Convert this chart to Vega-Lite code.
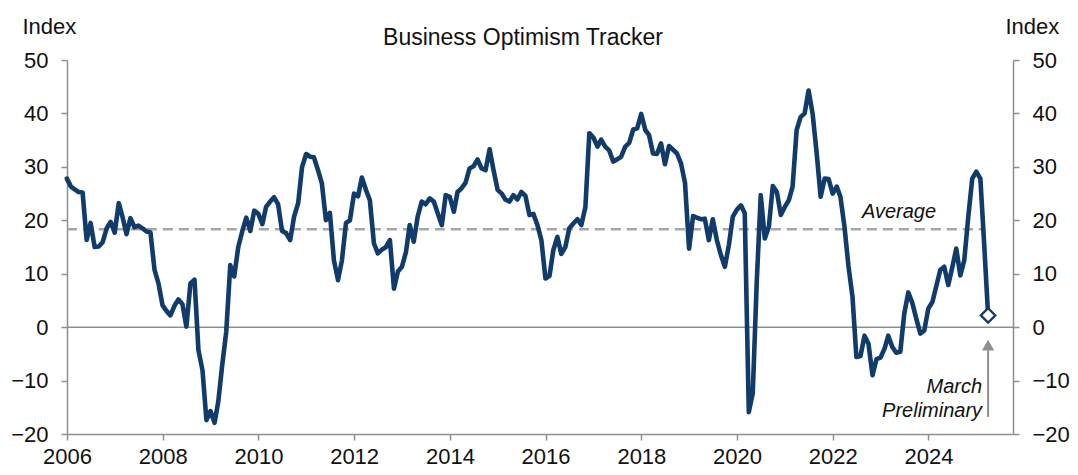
{
  "$schema": "https://vega.github.io/schema/vega-lite/v6.json",
  "width": 946,
  "height": 374,
  "autosize": "none",
  "padding": {"left": 67, "top": 60, "right": 65, "bottom": 41},
  "background": "white",
  "title": {"text": "Business Optimism Tracker", "anchor": "middle", "frame": "group", "dx": -17, "dy": 53, "offset": 0, "baseline": "alphabetic", "fontSize": 23, "fontWeight": "normal", "font": "Liberation Sans", "color": "#111111"},
  "config": {
    "view": {"stroke": null},
    "font": "Liberation Sans",
    "axis": {"domainColor": "#8f8f8f", "domainWidth": 1.5, "tickColor": "#8f8f8f", "tickWidth": 1.5, "tickSize": 6, "labelFont": "Liberation Sans", "labelFontSize": 22, "labelColor": "#111111", "titleFont": "Liberation Sans", "titleFontSize": 22, "titleFontWeight": "normal", "titleColor": "#111111", "grid": false}
  },
  "datasets": {
    "tracker": [
      {"date": "2005-12-31", "value": 27.8},
      {"date": "2006-01-31", "value": 26.3}, {"date": "2006-02-28", "value": 25.8}, {"date": "2006-03-31", "value": 25.3}, {"date": "2006-04-30", "value": 25.2}, {"date": "2006-05-31", "value": 16.3}, {"date": "2006-06-30", "value": 19.5}, {"date": "2006-07-31", "value": 15.0}, {"date": "2006-08-31", "value": 15.1}, {"date": "2006-09-30", "value": 15.9}, {"date": "2006-10-31", "value": 18.5}, {"date": "2006-11-30", "value": 19.7}, {"date": "2006-12-31", "value": 17.7},
      {"date": "2007-01-31", "value": 23.2}, {"date": "2007-02-28", "value": 20.7}, {"date": "2007-03-31", "value": 17.4}, {"date": "2007-04-30", "value": 20.4}, {"date": "2007-05-31", "value": 18.7}, {"date": "2007-06-30", "value": 19.0}, {"date": "2007-07-31", "value": 18.5}, {"date": "2007-08-31", "value": 17.9}, {"date": "2007-09-30", "value": 17.7}, {"date": "2007-10-31", "value": 10.7}, {"date": "2007-11-30", "value": 8.2}, {"date": "2007-12-31", "value": 4.1},
      {"date": "2008-01-31", "value": 3.0}, {"date": "2008-02-29", "value": 2.2}, {"date": "2008-03-31", "value": 4.0}, {"date": "2008-04-30", "value": 5.2}, {"date": "2008-05-31", "value": 4.3}, {"date": "2008-06-30", "value": 0.1}, {"date": "2008-07-31", "value": 8.2}, {"date": "2008-08-31", "value": 8.9}, {"date": "2008-09-30", "value": -4.3}, {"date": "2008-10-31", "value": -8.1}, {"date": "2008-11-30", "value": -17.4}, {"date": "2008-12-31", "value": -15.7},
      {"date": "2009-01-31", "value": -17.9}, {"date": "2009-02-28", "value": -14.0}, {"date": "2009-03-31", "value": -7.0}, {"date": "2009-04-30", "value": -0.9}, {"date": "2009-05-31", "value": 11.6}, {"date": "2009-06-30", "value": 9.5}, {"date": "2009-07-31", "value": 15.0}, {"date": "2009-08-31", "value": 18.0}, {"date": "2009-09-30", "value": 20.5}, {"date": "2009-10-31", "value": 18.0}, {"date": "2009-11-30", "value": 21.8}, {"date": "2009-12-31", "value": 21.2},
      {"date": "2010-01-31", "value": 19.3}, {"date": "2010-02-28", "value": 22.5}, {"date": "2010-03-31", "value": 23.5}, {"date": "2010-04-30", "value": 24.3}, {"date": "2010-05-31", "value": 23.0}, {"date": "2010-06-30", "value": 18.0}, {"date": "2010-07-31", "value": 17.6}, {"date": "2010-08-31", "value": 16.3}, {"date": "2010-09-30", "value": 20.7}, {"date": "2010-10-31", "value": 23.2}, {"date": "2010-11-30", "value": 30.0}, {"date": "2010-12-31", "value": 32.4},
      {"date": "2011-01-31", "value": 31.9}, {"date": "2011-02-28", "value": 31.8}, {"date": "2011-03-31", "value": 29.4}, {"date": "2011-04-30", "value": 26.9}, {"date": "2011-05-31", "value": 20.0}, {"date": "2011-06-30", "value": 21.4}, {"date": "2011-07-31", "value": 12.5}, {"date": "2011-08-31", "value": 8.8}, {"date": "2011-09-30", "value": 12.5}, {"date": "2011-10-31", "value": 19.5}, {"date": "2011-11-30", "value": 20.0}, {"date": "2011-12-31", "value": 25.0},
      {"date": "2012-01-31", "value": 24.5}, {"date": "2012-02-29", "value": 28.0}, {"date": "2012-03-31", "value": 25.7}, {"date": "2012-04-30", "value": 23.8}, {"date": "2012-05-31", "value": 15.7}, {"date": "2012-06-30", "value": 13.8}, {"date": "2012-07-31", "value": 14.5}, {"date": "2012-08-31", "value": 15.0}, {"date": "2012-09-30", "value": 16.3}, {"date": "2012-10-31", "value": 7.2}, {"date": "2012-11-30", "value": 10.4}, {"date": "2012-12-31", "value": 11.3},
      {"date": "2013-01-31", "value": 14.1}, {"date": "2013-02-28", "value": 19.1}, {"date": "2013-03-31", "value": 16.0}, {"date": "2013-04-30", "value": 20.7}, {"date": "2013-05-31", "value": 23.5}, {"date": "2013-06-30", "value": 23.0}, {"date": "2013-07-31", "value": 24.1}, {"date": "2013-08-31", "value": 23.5}, {"date": "2013-09-30", "value": 21.3}, {"date": "2013-10-31", "value": 19.1}, {"date": "2013-11-30", "value": 24.7}, {"date": "2013-12-31", "value": 24.4},
      {"date": "2014-01-31", "value": 21.6}, {"date": "2014-02-28", "value": 25.3}, {"date": "2014-03-31", "value": 26.0}, {"date": "2014-04-30", "value": 27.0}, {"date": "2014-05-31", "value": 29.7}, {"date": "2014-06-30", "value": 30.1}, {"date": "2014-07-31", "value": 31.4}, {"date": "2014-08-31", "value": 29.7}, {"date": "2014-09-30", "value": 29.4}, {"date": "2014-10-31", "value": 33.3}, {"date": "2014-11-30", "value": 29.4}, {"date": "2014-12-31", "value": 25.7},
      {"date": "2015-01-31", "value": 25.0}, {"date": "2015-02-28", "value": 23.9}, {"date": "2015-03-31", "value": 23.5}, {"date": "2015-04-30", "value": 24.7}, {"date": "2015-05-31", "value": 23.9}, {"date": "2015-06-30", "value": 25.3}, {"date": "2015-07-31", "value": 24.6}, {"date": "2015-08-31", "value": 21.0}, {"date": "2015-09-30", "value": 21.2}, {"date": "2015-10-31", "value": 19.1}, {"date": "2015-11-30", "value": 16.3}, {"date": "2015-12-31", "value": 9.1},
      {"date": "2016-01-31", "value": 9.6}, {"date": "2016-02-29", "value": 14.4}, {"date": "2016-03-31", "value": 16.9}, {"date": "2016-04-30", "value": 13.7}, {"date": "2016-05-31", "value": 15.0}, {"date": "2016-06-30", "value": 18.5}, {"date": "2016-07-31", "value": 19.4}, {"date": "2016-08-31", "value": 20.2}, {"date": "2016-09-30", "value": 19.1}, {"date": "2016-10-31", "value": 22.5}, {"date": "2016-11-30", "value": 36.3}, {"date": "2016-12-31", "value": 35.5},
      {"date": "2017-01-31", "value": 33.8}, {"date": "2017-02-28", "value": 35.1}, {"date": "2017-03-31", "value": 33.8}, {"date": "2017-04-30", "value": 33.1}, {"date": "2017-05-31", "value": 31.0}, {"date": "2017-06-30", "value": 31.4}, {"date": "2017-07-31", "value": 31.9}, {"date": "2017-08-31", "value": 33.8}, {"date": "2017-09-30", "value": 34.5}, {"date": "2017-10-31", "value": 37.0}, {"date": "2017-11-30", "value": 37.2}, {"date": "2017-12-31", "value": 39.9},
      {"date": "2018-01-31", "value": 36.9}, {"date": "2018-02-28", "value": 36.0}, {"date": "2018-03-31", "value": 32.5}, {"date": "2018-04-30", "value": 32.4}, {"date": "2018-05-31", "value": 34.4}, {"date": "2018-06-30", "value": 30.5}, {"date": "2018-07-31", "value": 33.9}, {"date": "2018-08-31", "value": 33.2}, {"date": "2018-09-30", "value": 32.5}, {"date": "2018-10-31", "value": 30.6}, {"date": "2018-11-30", "value": 27.0}, {"date": "2018-12-31", "value": 14.7},
      {"date": "2019-01-31", "value": 20.8}, {"date": "2019-02-28", "value": 20.5}, {"date": "2019-03-31", "value": 20.2}, {"date": "2019-04-30", "value": 20.3}, {"date": "2019-05-31", "value": 16.3}, {"date": "2019-06-30", "value": 20.2}, {"date": "2019-07-31", "value": 16.3}, {"date": "2019-08-31", "value": 13.5}, {"date": "2019-09-30", "value": 11.3}, {"date": "2019-10-31", "value": 15.4}, {"date": "2019-11-30", "value": 20.7}, {"date": "2019-12-31", "value": 22.0},
      {"date": "2020-01-31", "value": 22.8}, {"date": "2020-02-29", "value": 21.3}, {"date": "2020-03-31", "value": -15.9}, {"date": "2020-04-30", "value": -12.4}, {"date": "2020-05-31", "value": 8.8}, {"date": "2020-06-30", "value": 24.7}, {"date": "2020-07-31", "value": 16.6}, {"date": "2020-08-31", "value": 18.8}, {"date": "2020-09-30", "value": 26.4}, {"date": "2020-10-31", "value": 25.3}, {"date": "2020-11-30", "value": 21.0}, {"date": "2020-12-31", "value": 22.5},
      {"date": "2021-01-31", "value": 23.8}, {"date": "2021-02-28", "value": 26.3}, {"date": "2021-03-31", "value": 36.9}, {"date": "2021-04-30", "value": 39.3}, {"date": "2021-05-31", "value": 40.0}, {"date": "2021-06-30", "value": 44.3}, {"date": "2021-07-31", "value": 39.9}, {"date": "2021-08-31", "value": 32.5}, {"date": "2021-09-30", "value": 24.4}, {"date": "2021-10-31", "value": 27.8}, {"date": "2021-11-30", "value": 27.7}, {"date": "2021-12-31", "value": 25.0},
      {"date": "2022-01-31", "value": 26.3}, {"date": "2022-02-28", "value": 24.4}, {"date": "2022-03-31", "value": 18.8}, {"date": "2022-04-30", "value": 11.5}, {"date": "2022-05-31", "value": 5.7}, {"date": "2022-06-30", "value": -5.6}, {"date": "2022-07-31", "value": -5.4}, {"date": "2022-08-31", "value": -1.6}, {"date": "2022-09-30", "value": -3.1}, {"date": "2022-10-31", "value": -9.0}, {"date": "2022-11-30", "value": -6.0}, {"date": "2022-12-31", "value": -5.7},
      {"date": "2023-01-31", "value": -4.0}, {"date": "2023-02-28", "value": -1.6}, {"date": "2023-03-31", "value": -3.7}, {"date": "2023-04-30", "value": -4.8}, {"date": "2023-05-31", "value": -4.6}, {"date": "2023-06-30", "value": 2.5}, {"date": "2023-07-31", "value": 6.5}, {"date": "2023-08-31", "value": 4.5}, {"date": "2023-09-30", "value": 1.6}, {"date": "2023-10-31", "value": -1.2}, {"date": "2023-11-30", "value": -0.6}, {"date": "2023-12-31", "value": 3.5},
      {"date": "2024-01-31", "value": 4.7}, {"date": "2024-02-29", "value": 7.6}, {"date": "2024-03-31", "value": 10.7}, {"date": "2024-04-30", "value": 11.3}, {"date": "2024-05-31", "value": 7.9}, {"date": "2024-06-30", "value": 11.1}, {"date": "2024-07-31", "value": 14.7}, {"date": "2024-08-31", "value": 9.7}, {"date": "2024-09-30", "value": 12.5}, {"date": "2024-10-31", "value": 20.7}, {"date": "2024-11-30", "value": 27.8}, {"date": "2024-12-31", "value": 29.1},
      {"date": "2025-01-31", "value": 27.8}, {"date": "2025-02-28", "value": 16.0}, {"date": "2025-03-31", "value": 2.2, "status": "preliminary"}
    ]
  },
  "resolve": {"axis": {"y": "independent"}},
  "layer": [
    {
      "data": {"values": [{"zero": 0}]},
      "mark": {"type": "rule", "color": "#8f8f8f", "strokeWidth": 1.5},
      "encoding": {
        "y": {"field": "zero", "type": "quantitative", "scale": {"domain": [-20, 50], "nice": false, "zero": false},
          "axis": {"orient": "right", "values": [-20, -10, 0, 10, 20, 30, 40, 50], "title": "Index", "titleAngle": 0, "titleX": -8, "titleY": -27, "titleAlign": "left", "titleBaseline": "alphabetic", "labelPadding": 13}}
      }
    },
    {
      "data": {"values": [{"start": "2005-12-31", "end": "2025-02-28", "average": 18.3, "label": "Average"}]},
      "mark": {"type": "rule", "color": "#a6a6a6", "strokeWidth": 2.5, "strokeDash": [10, 6]},
      "encoding": {
        "x": {"field": "start", "type": "temporal"},
        "x2": {"field": "end"},
        "y": {"field": "average", "type": "quantitative", "axis": null}
      }
    },
    {
      "data": {"values": [{"start": "2005-12-31", "end": "2025-02-28", "average": 18.3, "label": "Average"}]},
      "mark": {"type": "text", "align": "right", "baseline": "alphabetic", "dx": -48, "dy": -11, "fontStyle": "italic", "fontSize": 20, "font": "Liberation Sans", "color": "#111111"},
      "encoding": {
        "x": {"field": "end", "type": "temporal"},
        "y": {"field": "average", "type": "quantitative", "axis": null},
        "text": {"field": "label"}
      }
    },
    {
      "data": {"name": "tracker"},
      "mark": {"type": "line", "color": "#103b6b", "strokeWidth": 4.6, "strokeJoin": "round", "strokeCap": "round"},
      "encoding": {
        "x": {"field": "date", "type": "temporal",
          "scale": {"type": "utc", "domain": [{"year": 2006, "month": 1, "date": 1, "utc": true}, {"year": 2025, "month": 10, "date": 7, "utc": true}]},
          "axis": {"title": null, "format": "%Y", "labelFlush": false, "labelOverlap": false, "labelBound": false, "labelPadding": 6,
            "values": [
              {"year": 2006, "month": 1, "date": 1, "utc": true}, {"year": 2008, "month": 1, "date": 1, "utc": true},
              {"year": 2010, "month": 1, "date": 1, "utc": true}, {"year": 2012, "month": 1, "date": 1, "utc": true},
              {"year": 2014, "month": 1, "date": 1, "utc": true}, {"year": 2016, "month": 1, "date": 1, "utc": true},
              {"year": 2018, "month": 1, "date": 1, "utc": true}, {"year": 2020, "month": 1, "date": 1, "utc": true},
              {"year": 2022, "month": 1, "date": 1, "utc": true}, {"year": 2024, "month": 1, "date": 1, "utc": true}
            ]}},
        "y": {"field": "value", "type": "quantitative",
          "axis": {"orient": "left", "values": [-20, -10, 0, 10, 20, 30, 40, 50], "title": "Index", "titleAngle": 0, "titleX": -45, "titleY": -27, "titleAlign": "left", "titleBaseline": "alphabetic", "labelPadding": 13}}
      }
    },
    {
      "data": {"name": "tracker"},
      "transform": [{"filter": "datum.status === 'preliminary'"}],
      "mark": {"type": "rule", "color": "#8f8f8f", "strokeWidth": 2},
      "encoding": {
        "x": {"field": "date", "type": "temporal"},
        "y": {"datum": -16.8, "type": "quantitative", "axis": null},
        "y2": {"datum": -4.3}
      }
    },
    {
      "data": {"name": "tracker"},
      "transform": [{"filter": "datum.status === 'preliminary'"}],
      "mark": {"type": "point", "shape": "triangle-up", "filled": true, "color": "#8f8f8f", "size": 150, "opacity": 1},
      "encoding": {
        "x": {"field": "date", "type": "temporal"},
        "y": {"datum": -3.37, "type": "quantitative", "axis": null}
      }
    },
    {
      "data": {"name": "tracker"},
      "transform": [{"filter": "datum.status === 'preliminary'"}],
      "mark": {"type": "text", "align": "right", "baseline": "alphabetic", "dx": -6, "lineHeight": 24, "fontStyle": "italic", "fontSize": 20, "font": "Liberation Sans", "color": "#111111"},
      "encoding": {
        "x": {"field": "date", "type": "temporal"},
        "y": {"datum": -12.4, "type": "quantitative", "axis": null},
        "text": {"value": ["March", "Preliminary"]}
      }
    },
    {
      "data": {"name": "tracker"},
      "transform": [{"filter": "datum.status === 'preliminary'"}],
      "mark": {"type": "point", "shape": "diamond", "filled": true, "fill": "white", "stroke": "#103b6b", "strokeWidth": 2.2, "size": 210, "opacity": 1},
      "encoding": {
        "x": {"field": "date", "type": "temporal"},
        "y": {"field": "value", "type": "quantitative", "axis": null}
      }
    }
  ]
}
